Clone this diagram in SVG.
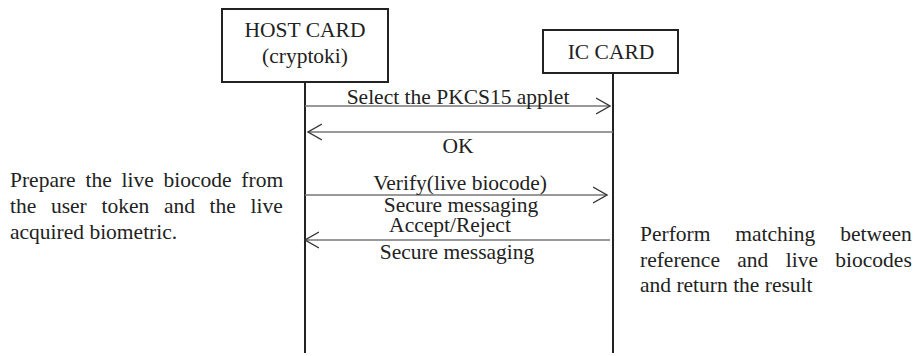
<svg xmlns="http://www.w3.org/2000/svg" width="914" height="356" viewBox="0 0 914 356">
<style>
text{font-family:"Liberation Serif","Times New Roman",serif;font-size:21.5px;fill:#222}
.c{text-anchor:middle}
.box{fill:#fff;stroke:#222;stroke-width:2}
.life{stroke:#222;stroke-width:2}
.msg{stroke:#777;stroke-width:1.4;fill:none}
</style>
<defs>
<marker id="ah" markerUnits="userSpaceOnUse" markerWidth="18" markerHeight="20" refX="14" refY="9" orient="auto" viewBox="0 0 18 20">
<path d="M0,1 L14,9 L0,17" fill="none" stroke="#333" stroke-width="1.4"/>
</marker>
</defs>
<rect width="914" height="356" fill="#fff"/>
<g id="host">
<line class="life" x1="305" y1="82" x2="305" y2="353"/>
<rect class="box" x="222" y="9" width="166" height="73"/>
<text class="c" x="305" y="37">HOST CARD</text>
<text class="c" x="305" y="63">(cryptoki)</text>
</g>
<g id="ic">
<line class="life" x1="613" y1="73" x2="613" y2="353"/>
<rect class="box" x="543" y="30" width="135" height="43"/>
<text class="c" x="611" y="59">IC CARD</text>
</g>
<g id="connectors">
<line class="msg" x1="305" y1="106" x2="610" y2="106" marker-end="url(#ah)"/>
<line class="msg" x1="613" y1="132" x2="308" y2="132" marker-end="url(#ah)"/>
<line class="msg" x1="305" y1="195" x2="607" y2="195" marker-end="url(#ah)"/>
<line class="msg" x1="610" y1="240" x2="305" y2="240" marker-end="url(#ah)"/>
<text class="c" x="458" y="104">Select the PKCS15 applet</text>
<text class="c" x="458" y="153">OK</text>
<text class="c" x="460" y="190">Verify(live biocode)</text>
<text class="c" x="461" y="212">Secure messaging</text>
<text class="c" x="450" y="232">Accept/Reject</text>
<text class="c" x="457" y="259">Secure messaging</text>
</g>
<g id="note-left">
<text x="10" y="187" word-spacing="4.4">Prepare the live biocode from</text>
<text x="10" y="213" word-spacing="9.3">the user token and the live</text>
<text x="10" y="239">acquired biometric.</text>
</g>
<g id="note-right">
<text x="640" y="241" word-spacing="19.5">Perform matching between</text>
<text x="640" y="267" word-spacing="12">reference and live biocodes</text>
<text x="640" y="292">and return the result</text>
</g>
</svg>
